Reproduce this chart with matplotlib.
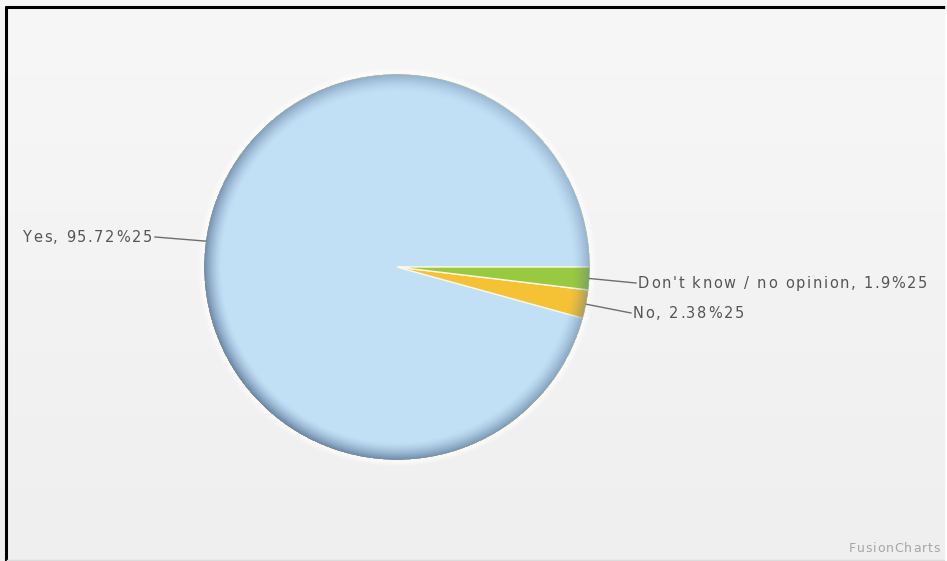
import numpy as np
import matplotlib
matplotlib.use("Agg")
import matplotlib.pyplot as plt
from matplotlib.patches import Circle
from matplotlib import font_manager
from matplotlib.ft2font import FT2Font

# Survey answers
labels = ["Yes", "No", "Don't know / no opinion"]
values = [95.72, 2.38, 1.9]
value_text = ["95.72%25", "2.38%25", "1.9%25"]
colors = ["#c1dff5", "#f5c236", "#99c940"]

W, H = 947, 561
DPI = 100
fig = plt.figure(figsize=(W / DPI, H / DPI), dpi=DPI)
ax = fig.add_axes([0, 0, 1, 1])
ax.set_xlim(0, W)
ax.set_ylim(0, H)
ax.set_aspect("equal")
ax.axis("off")

FONT_PATH = font_manager.findfont("DejaVu Sans")


def char_advances(s, size):
    font = FT2Font(FONT_PATH)
    font.set_size(size, DPI)
    return [font.load_char(ord(c)).linearHoriAdvance / 65536.0 for c in s]


def spaced_text(x, y, s, size, color, ha="left", tracking=2.0, zorder=5):
    """Draw text one glyph at a time with extra letter spacing (axes units are pixels)."""
    adv = char_advances(s, size)
    total = sum(adv) + tracking * (len(s) - 1)
    x0 = x - total if ha == "right" else x
    pos = x0
    for c, a in zip(s, adv):
        if c != " ":
            ax.text(pos, y, c, ha="left", va="center", fontsize=size,
                    color=color, family="DejaVu Sans", zorder=zorder)
        pos += a + tracking


# background gradient
grad = np.linspace(0, 1, 200)[:, None]
top = np.array([0.969, 0.969, 0.969])
bot = np.array([0.937, 0.937, 0.937])
bg = top * (1 - grad[..., None]) + bot * grad[..., None]
bg = np.repeat(bg, 2, axis=1)
ax.imshow(bg, extent=[0, W, 0, H], origin="upper", aspect="auto", zorder=0)

cx, cy, R = 397, H - 267, 193

# soft white halo around the pie
yy, xx = np.mgrid[0:H:1.0, 0:W:1.0]
rr = np.hypot(xx + 0.5 - cx, yy + 0.5 - cy)
halo = np.clip(1 - (rr - R) / 7, 0, 1) * (rr >= R - 1)
halo_img = np.zeros((H, W, 4))
halo_img[..., :3] = 1.0
halo_img[..., 3] = 0.85 * halo
ax.imshow(halo_img, extent=[0, W, 0, H], origin="lower", zorder=1,
          interpolation="bilinear")

wedges, _ = ax.pie(values, colors=colors, startangle=0, counterclock=True,
                   center=(cx, cy), radius=R, frame=True,
                   wedgeprops=dict(edgecolor="#fbf7e0", linewidth=1.0))
for w in wedges:
    w.set_zorder(2)
ax.set_xlim(0, W)
ax.set_ylim(0, H)
ax.axis("off")

# bevelled rim shading
theta = np.arctan2(yy + 0.5 - cy, xx + 0.5 - cx)
d = R - rr
shade = np.clip(1 - d / 18, 0, 1) ** 1.5
shade *= 0.72 + 0.28 * np.cos(theta - np.deg2rad(225))
rim = np.zeros((H, W, 4))
rim[..., 0] = 0.33
rim[..., 1] = 0.44
rim[..., 2] = 0.58
rim[..., 3] = 0.85 * shade * (d >= 0)
im = ax.imshow(rim, extent=[0, W, 0, H], origin="lower", zorder=3,
               interpolation="bilinear")
im.set_clip_path(Circle((cx, cy), R, transform=ax.transData))

# labels with connector lines
angles = []
acc = 0.0
total = sum(values)
for v in values:
    angles.append(np.deg2rad((acc + v / 2) / total * 360))
    acc += v

anchors = [(155, H - 237, "right", 152),
           (631, H - 313, "left", 633),
           (636, H - 283, "left", 638)]
for lab, vt, ang, (ax_, ay_, ha, tx) in zip(labels, value_text, angles, anchors):
    ex, ey = cx + R * np.cos(ang), cy + R * np.sin(ang)
    ax.plot([ex, ax_], [ey, ay_], color="#6e6e6e", lw=1.0, zorder=4)
    spaced_text(tx, ay_, f"{lab}, {vt}", 10.5, "#555555", ha=ha, tracking=1.7)

spaced_text(940, H - 548, "FusionCharts", 9, "#a6a6a6", ha="right",
            tracking=0.9)

# frame
ax.plot([5, 946], [H - 7, H - 7], color="black", lw=2.2, zorder=6,
        solid_capstyle="butt")
ax.plot([6, 6], [H - 6, 0], color="black", lw=2.2, zorder=6,
        solid_capstyle="butt")
ax.plot([7, 946], [1.5, 1.5], color="#dcdcdc", lw=1, zorder=6)
ax.plot([946.5, 946.5], [0, H], color="white", lw=1.2, zorder=6)

fig.savefig("out.png", dpi=DPI)
